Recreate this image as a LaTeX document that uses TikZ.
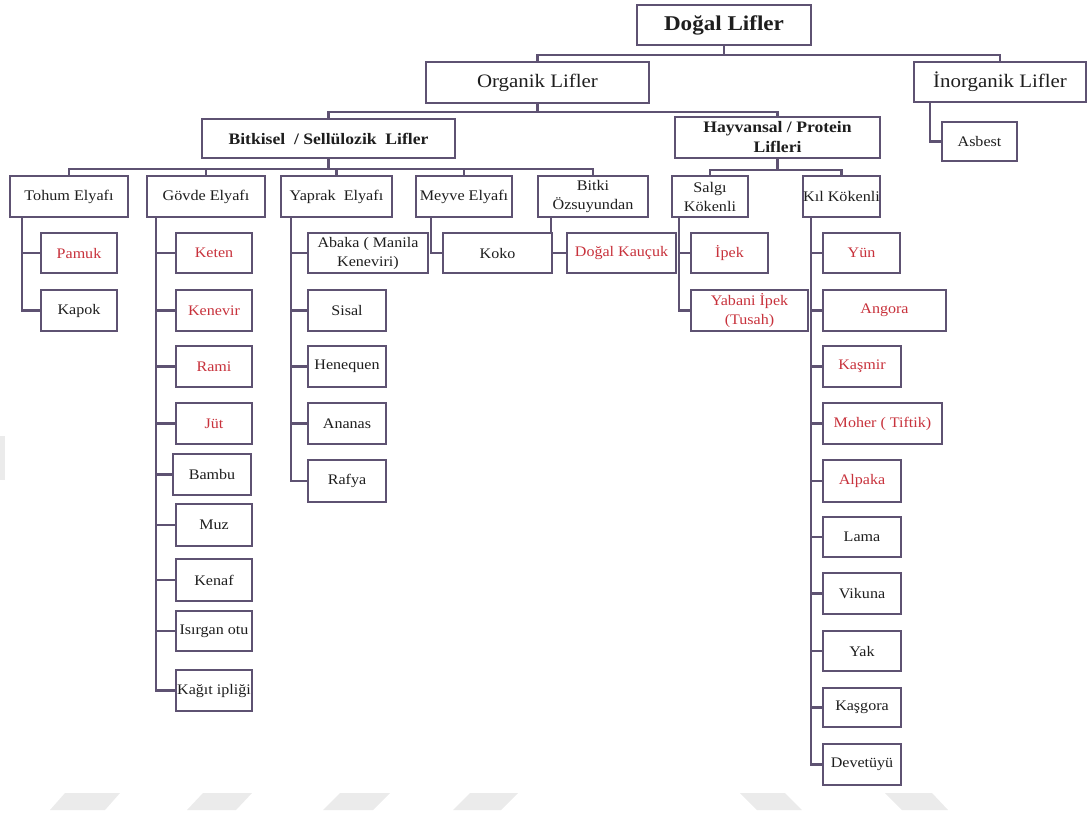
\documentclass[tikz,border=0pt]{standalone}
\usepackage{fontspec}
\setmainfont{Liberation Serif}[FakeStretch=1.1]
\usetikzlibrary{backgrounds}
\definecolor{ln}{HTML}{5E5272}
\definecolor{rd}{HTML}{C8323C}
\definecolor{tx}{HTML}{1E1E1E}
\definecolor{wm}{HTML}{EBEBEB}
\tikzset{
  box/.style={draw=ln, line width=1.9pt, fill=white, inner sep=0pt, align=center, text=tx,
    font=\fontsize{14.6}{19}\selectfont},
  redtxt/.style={text=rd},
  conn/.style={draw=ln, line width=2.2pt},
  toplvl/.style={font=\bfseries\fontsize{21}{23}\selectfont},
  lvlone/.style={font=\fontsize{19}{21}\selectfont},
  lvltwo/.style={font=\bfseries\fontsize{16}{20}\selectfont},
  lvlthree/.style={font=\fontsize{14.7}{19}\selectfont},
}
\newcommand{\mybox}[7][]{\node[box,#1,minimum width={(#5-#3)*1pt},minimum height={(#6-#4)*1pt}] (#2) at ({(#3+#5)/2},{(#4+#6)/2}) {#7};}
\begin{document}
\begin{tikzpicture}[x=1pt,y=-1pt]
\useasboundingbox (0,0) rectangle (1089,815);
% watermark shapes
\fill[wm] (65,793) -- (120,793) -- (105,810) -- (50,810) -- cycle;
\fill[wm] (203,793) -- (252,793) -- (236,810) -- (187,810) -- cycle;
\fill[wm] (340,793) -- (390,793) -- (373,810) -- (323,810) -- cycle;
\fill[wm] (470,793) -- (518,793) -- (501,810) -- (453,810) -- cycle;
\fill[wm] (740,793) -- (785,793) -- (802,810) -- (757,810) -- cycle;
\fill[wm] (885,793) -- (932,793) -- (948,810) -- (902,810) -- cycle;
\fill[wm] (0,436) rectangle (5,480);
% level 0-2
\mybox[toplvl]{dogal}{637}{5}{811}{45}{Doğal Lifler}
\mybox[lvlone]{org}{426}{62}{649}{103}{Organik Lifler}
\mybox[lvlone]{inorg}{914}{62}{1086}{102}{İnorganik Lifler}
\mybox{asbest}{942}{122}{1017}{161}{Asbest}
\mybox[lvltwo]{bitk}{202}{119}{455}{158}{Bitkisel~ / Sellülozik~ Lifler}
\mybox[lvltwo]{hayv}{675}{117}{880}{158}{Hayvansal / Protein\\Lifleri}
% level 3
\mybox[lvlthree]{tohum}{10}{176}{128}{217}{Tohum Elyafı}
\mybox[lvlthree]{govde}{147}{176}{265}{217}{Gövde Elyafı}
\mybox[lvlthree]{yaprak}{281}{176}{392}{217}{Yaprak~ Elyafı}
\mybox[lvlthree]{meyve}{416}{176}{512}{217}{Meyve Elyafı}
\mybox[lvlthree]{bitki}{538}{176}{648}{217}{Bitki\\Özsuyundan}
\mybox[lvlthree]{salgi}{672}{176}{748}{217}{Salgı\\Kökenli}
\mybox[lvlthree]{kil}{803}{176}{880}{217}{Kıl Kökenli}
% Tohum
\mybox[redtxt]{pamuk}{41}{233}{117}{273}{Pamuk}
\mybox{kapok}{41}{290}{117}{331}{Kapok}
% Govde
\mybox[redtxt]{keten}{176}{233}{252}{273}{Keten}
\mybox[redtxt]{kenevir}{176}{290}{252}{331}{Kenevir}
\mybox[redtxt]{rami}{176}{346}{252}{387}{Rami}
\mybox[redtxt]{jut}{176}{403}{252}{444}{Jüt}
\mybox{bambu}{173}{454}{251}{495}{Bambu}
\mybox{muz}{176}{504}{252}{546}{Muz}
\mybox{kenaf}{176}{559}{252}{601}{Kenaf}
\mybox{isirgan}{176}{611}{252}{651}{Isırgan otu}
\mybox{kagit}{176}{670}{252}{711}{Kağıt ipliği}
% Yaprak
\mybox{abaka}{308}{233}{428}{273}{Abaka ( Manila\\Keneviri)}
\mybox{sisal}{308}{290}{386}{331}{Sisal}
\mybox{henequen}{308}{346}{386}{387}{Henequen}
\mybox{ananas}{308}{403}{386}{444}{Ananas}
\mybox{rafya}{308}{460}{386}{502}{Rafya}
% Meyve, Bitki
\mybox{koko}{443}{233}{552}{273}{Koko}
\mybox[redtxt]{kaucuk}{567}{233}{676}{273}{Doğal Kauçuk}
% Salgi
\mybox[redtxt]{ipek}{691}{233}{768}{273}{İpek}
\mybox[redtxt]{yabani}{691}{290}{808}{331}{Yabani İpek\\(Tusah)}
% Kil
\mybox[redtxt]{yun}{823}{233}{900}{273}{Yün}
\mybox[redtxt]{angora}{823}{290}{946}{331}{Angora}
\mybox[redtxt]{kasmir}{823}{346}{901}{387}{Kaşmir}
\mybox[redtxt]{moher}{823}{403}{942}{444}{Moher ( Tiftik)}
\mybox[redtxt]{alpaka}{823}{460}{901}{502}{Alpaka}
\mybox{lama}{823}{517}{901}{557}{Lama}
\mybox{vikuna}{823}{573}{901}{614}{Vikuna}
\mybox{yak}{823}{631}{901}{671}{Yak}
\mybox{kasgora}{823}{688}{901}{727}{Kaşgora}
\mybox{devetuyu}{823}{744}{901}{785}{Devetüyü}
% connectors
\begin{pgfonlayer}{background}
\draw[conn] (dogal.south) -- ++(0,9) -| (org.north);
\draw[conn] (dogal.south) -- ++(0,9) -| (inorg.north);
\draw[conn] (org.south) -- ++(0,8) -| (bitk.north);
\draw[conn] (org.south) -- ++(0,8) -| (hayv.north);
\foreach \c in {tohum,govde,yaprak,meyve,bitki}
  \draw[conn] (bitk.south) -- ++(0,10) -| (\c.north);
\foreach \c in {salgi,kil}
  \draw[conn] (hayv.south) -- ++(0,11) -| (\c.north);
\draw[conn] ([xshift=17pt]inorg.south west) |- (asbest.west);
\foreach \c in {pamuk,kapok}
  \draw[conn] ([xshift=13pt]tohum.south west) |- (\c.west);
\foreach \c in {keten,kenevir,rami,jut,bambu,muz,kenaf,isirgan,kagit}
  \draw[conn] ([xshift=10pt]govde.south west) |- (\c.west);
\foreach \c in {abaka,sisal,henequen,ananas,rafya}
  \draw[conn] ([xshift=11pt]yaprak.south west) |- (\c.west);
\draw[conn] ([xshift=16pt]meyve.south west) |- (koko.west);
\draw[conn] ([xshift=14pt]bitki.south west) |- (kaucuk.west);
\foreach \c in {ipek,yabani}
  \draw[conn] ([xshift=8pt]salgi.south west) |- (\c.west);
\foreach \c in {yun,angora,kasmir,moher,alpaka,lama,vikuna,yak,kasgora,devetuyu}
  \draw[conn] ([xshift=9pt]kil.south west) |- (\c.west);
\end{pgfonlayer}
\end{tikzpicture}
\end{document}
